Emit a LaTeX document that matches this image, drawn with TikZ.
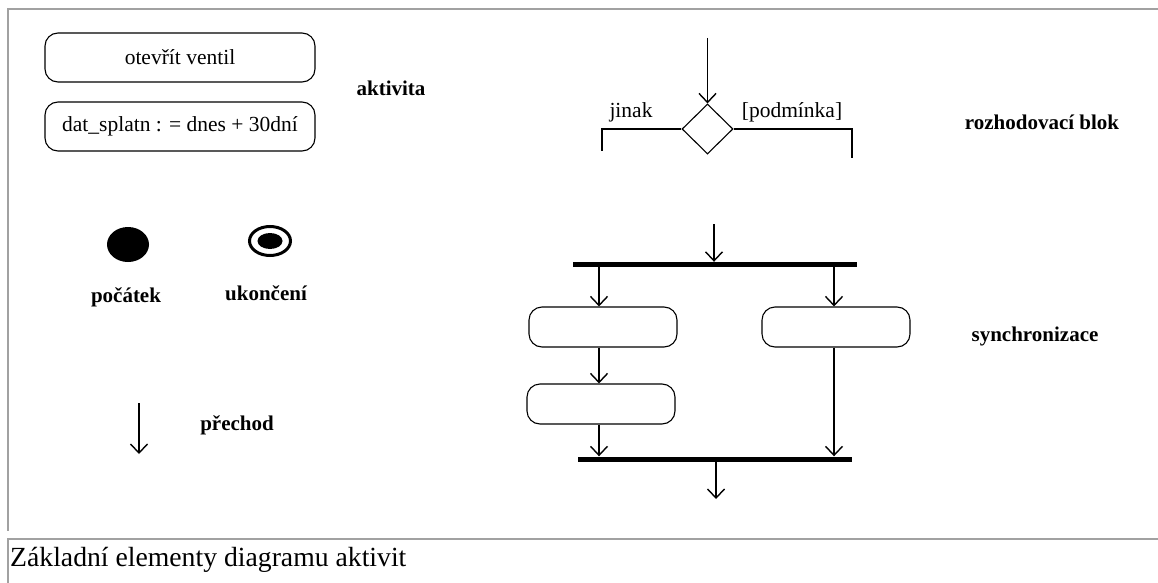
\documentclass[tikz,border=0pt]{standalone}
\usepackage{fontspec}
\setmainfont{Liberation Serif}
\usetikzlibrary{arrows.meta,shapes.geometric}
\begin{document}
\begin{tikzpicture}[x=1pt,y=-1pt,
  frame/.style={draw=black!37, line width=2.2pt},
  act/.style={draw, line width=1.1pt, rounded corners=13pt, inner sep=0pt,
    minimum width=270pt, minimum height=49pt},
  subact/.style={draw, line width=1.1pt, rounded corners=13pt, inner sep=0pt,
    minimum width=148pt, minimum height=40pt},
  bar/.style={fill=black, inner sep=0pt, minimum height=5pt},
  flow/.style={line width=1.1pt, -{Straight Barb[length=9pt,width=17pt,line width=1.4pt]}},
  line/.style={line width=1.1pt},
  plain/.style={font=\fontsize{21.5}{21.5}\selectfont, inner sep=0pt},
  label/.style={font=\fontsize{21}{21}\selectfont\bfseries, inner sep=0pt}]
\useasboundingbox (0,0) rectangle (1158,583);

% page frame and caption box
\draw[frame] (1158,9) -- (8,9) -- (8,531);
\draw[frame] (1158,539) -- (8,539) -- (8,583);
\node[anchor=base west, inner sep=0pt, font=\fontsize{27.7}{27.7}\selectfont] (caption) at (10,566)
  {Základní elementy diagramu aktivit};

% activity states
\node[act, plain] (act1) at (180,57.5) {otevřít ventil};
\node[act, plain] (act2) at (180,126.5) {dat\_splatn : = dnes + 30dní};
\node[label] (lblact) at (391,88) {aktivita};

% initial and final states
\node[ellipse, fill=black, inner sep=0pt, minimum width=42pt, minimum height=35pt] (start) at (128,244.5) {};
\node[ellipse, draw=black, line width=3pt, inner sep=0pt, minimum width=41pt, minimum height=29pt] (final) at (270,241) {};
\node[ellipse, fill=black, inner sep=0pt, minimum width=25pt, minimum height=16pt] (finalcore) at (final) {};
\node[label] (lblstart) at (126,297) {počátek};
\node[label] (lblfinal) at (266,293) {ukončení};

% transition
\coordinate (tr1) at (139,403);
\coordinate (tr2) at (139,454);
\draw[flow] (tr1) -- (tr2);
\node[label] (lbltr) at (237,425) {přechod};

% decision block
\node[diamond, draw, line width=1.1pt, inner sep=0pt, minimum width=51pt, minimum height=50pt] (dec) at (707.5,129) {};
\coordinate (decin) at (707.5,38);
\draw[flow] (decin) -- (dec.north);
\coordinate (elsecorner) at (602,129);
\coordinate (elseend) at (602,151);
\coordinate (ifcorner) at (852,129);
\coordinate (ifend) at (852,158);
\draw[line] (dec.west) -- (elsecorner) -- (elseend);
\draw[line] (dec.east) -- (ifcorner) -- (ifend);
\node[plain] (lblelse) at (631,112) {jinak};
\node[plain] (lblif) at (792,112) {[podmínka]};
\node[label] (lbldec) at (1042,122) {rozhodovací blok};

% fork and join
\node[bar, minimum width=284pt] (fork) at (715,264.5) {};
\node[bar, minimum width=274pt] (join) at (715,459) {};
\node[subact] (left1) at (603,327) {};
\node[subact] (left2) at (601,404) {};
\node[subact] (right1) at (836,327) {};
\coordinate (forkin) at (714,224);
\coordinate (joinout) at (716,499);
\draw[flow] (forkin) -- (forkin |- fork.north);
\draw[flow] (fork.south -| 599,0) -- (left1.north -| 599,0);
\draw[flow] (fork.south -| 834,0) -- (right1.north -| 834,0);
\draw[flow] (left1.south -| 599,0) -- (left2.north -| 599,0);
\draw[flow] (left2.south -| 599,0) -- (join.north -| 599,0);
\draw[flow] (right1.south -| 834,0) -- (join.north -| 834,0);
\draw[flow] (join.south -| joinout) -- (joinout);
\node[label] (lblsync) at (1035,336) {synchronizace};
\end{tikzpicture}
\end{document}
